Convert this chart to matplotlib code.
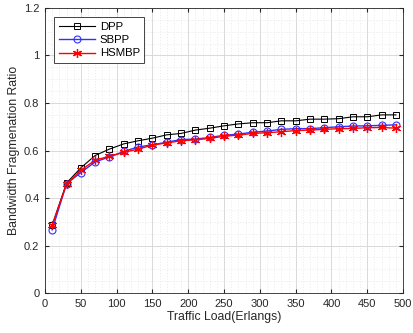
import matplotlib
matplotlib.use("Agg")
from matplotlib import pyplot as plt
from matplotlib.ticker import MultipleLocator, FuncFormatter

plt.rcParams['font.family'] = ['Liberation Sans', 'DejaVu Sans']

load = [10, 30, 50, 70, 90, 110, 130, 150, 170, 190, 210, 230, 250,
        270, 290, 310, 330, 350, 370, 390, 410, 430, 450, 470, 490]
dpp = [0.286, 0.463, 0.527, 0.579, 0.606, 0.628, 0.641, 0.652, 0.666, 0.672,
       0.686, 0.694, 0.704, 0.712, 0.717, 0.717, 0.725, 0.725, 0.732, 0.732,
       0.734, 0.742, 0.742, 0.750, 0.750]
sbpp = [0.266, 0.460, 0.507, 0.552, 0.573, 0.596, 0.615, 0.624, 0.635, 0.646,
        0.648, 0.655, 0.664, 0.669, 0.677, 0.682, 0.689, 0.692, 0.692, 0.696,
        0.700, 0.703, 0.704, 0.706, 0.708]
hsmbp = [0.286, 0.458, 0.517, 0.559, 0.576, 0.592, 0.606, 0.623, 0.632, 0.641,
         0.645, 0.651, 0.660, 0.665, 0.672, 0.675, 0.679, 0.684, 0.686, 0.689,
         0.692, 0.693, 0.696, 0.697, 0.694]

fig = plt.figure(figsize=(4.13, 3.33), dpi=100)
ax = fig.add_axes([0.109, 0.12, 0.867, 0.856])

ax.plot(load, dpp, color='black', lw=0.8, marker='s', ms=4.5, mfc='none',
        mew=0.7, label='DPP')
ax.plot(load, sbpp, color='#3030ff', lw=1.0, marker='o', ms=5, mfc='none',
        mew=0.8, label='SBPP')
ax.plot(load, hsmbp, color='red', lw=1.0, marker=(6, 2, 0), ms=6.5,
        mew=0.9, label='HSMBP')

ax.set_xlim(0, 500)
ax.set_ylim(0, 1.2)
ax.xaxis.set_major_locator(MultipleLocator(50))
ax.yaxis.set_major_locator(MultipleLocator(0.2))
ax.xaxis.set_minor_locator(MultipleLocator(10))
ax.yaxis.set_minor_locator(MultipleLocator(0.05))
ax.yaxis.set_major_formatter(FuncFormatter(lambda v, p: '%g' % round(v, 2)))
ax.grid(which='major', color='#d9d9d9', lw=0.7)
ax.grid(which='minor', color='#e3e3e3', lw=0.5, ls=(0, (1.5, 2.5)))
ax.set_axisbelow(True)
ax.tick_params(which='both', direction='in', labelsize=8, colors='#262626',
               top=True, right=True)
ax.tick_params(which='minor', length=0)
ax.tick_params(which='major', length=3, pad=4)
for s in ax.spines.values():
    s.set_color('#262626')
    s.set_linewidth(0.6)

ax.set_xlabel('Traffic Load(Erlangs)', fontsize=8.8, color='#262626', labelpad=2)
ax.set_ylabel('Bandwidth Fragmenation Ratio', fontsize=8.8, color='#262626',
              labelpad=3)

leg = ax.legend(loc='upper left', fontsize=8.2, fancybox=False, framealpha=1,
                edgecolor='#262626', borderaxespad=0.8, handlelength=3.2,
                labelspacing=0.3, borderpad=0.4, handletextpad=0.4)
leg.get_frame().set_linewidth(0.6)

fig.savefig('out.png', dpi=100)
